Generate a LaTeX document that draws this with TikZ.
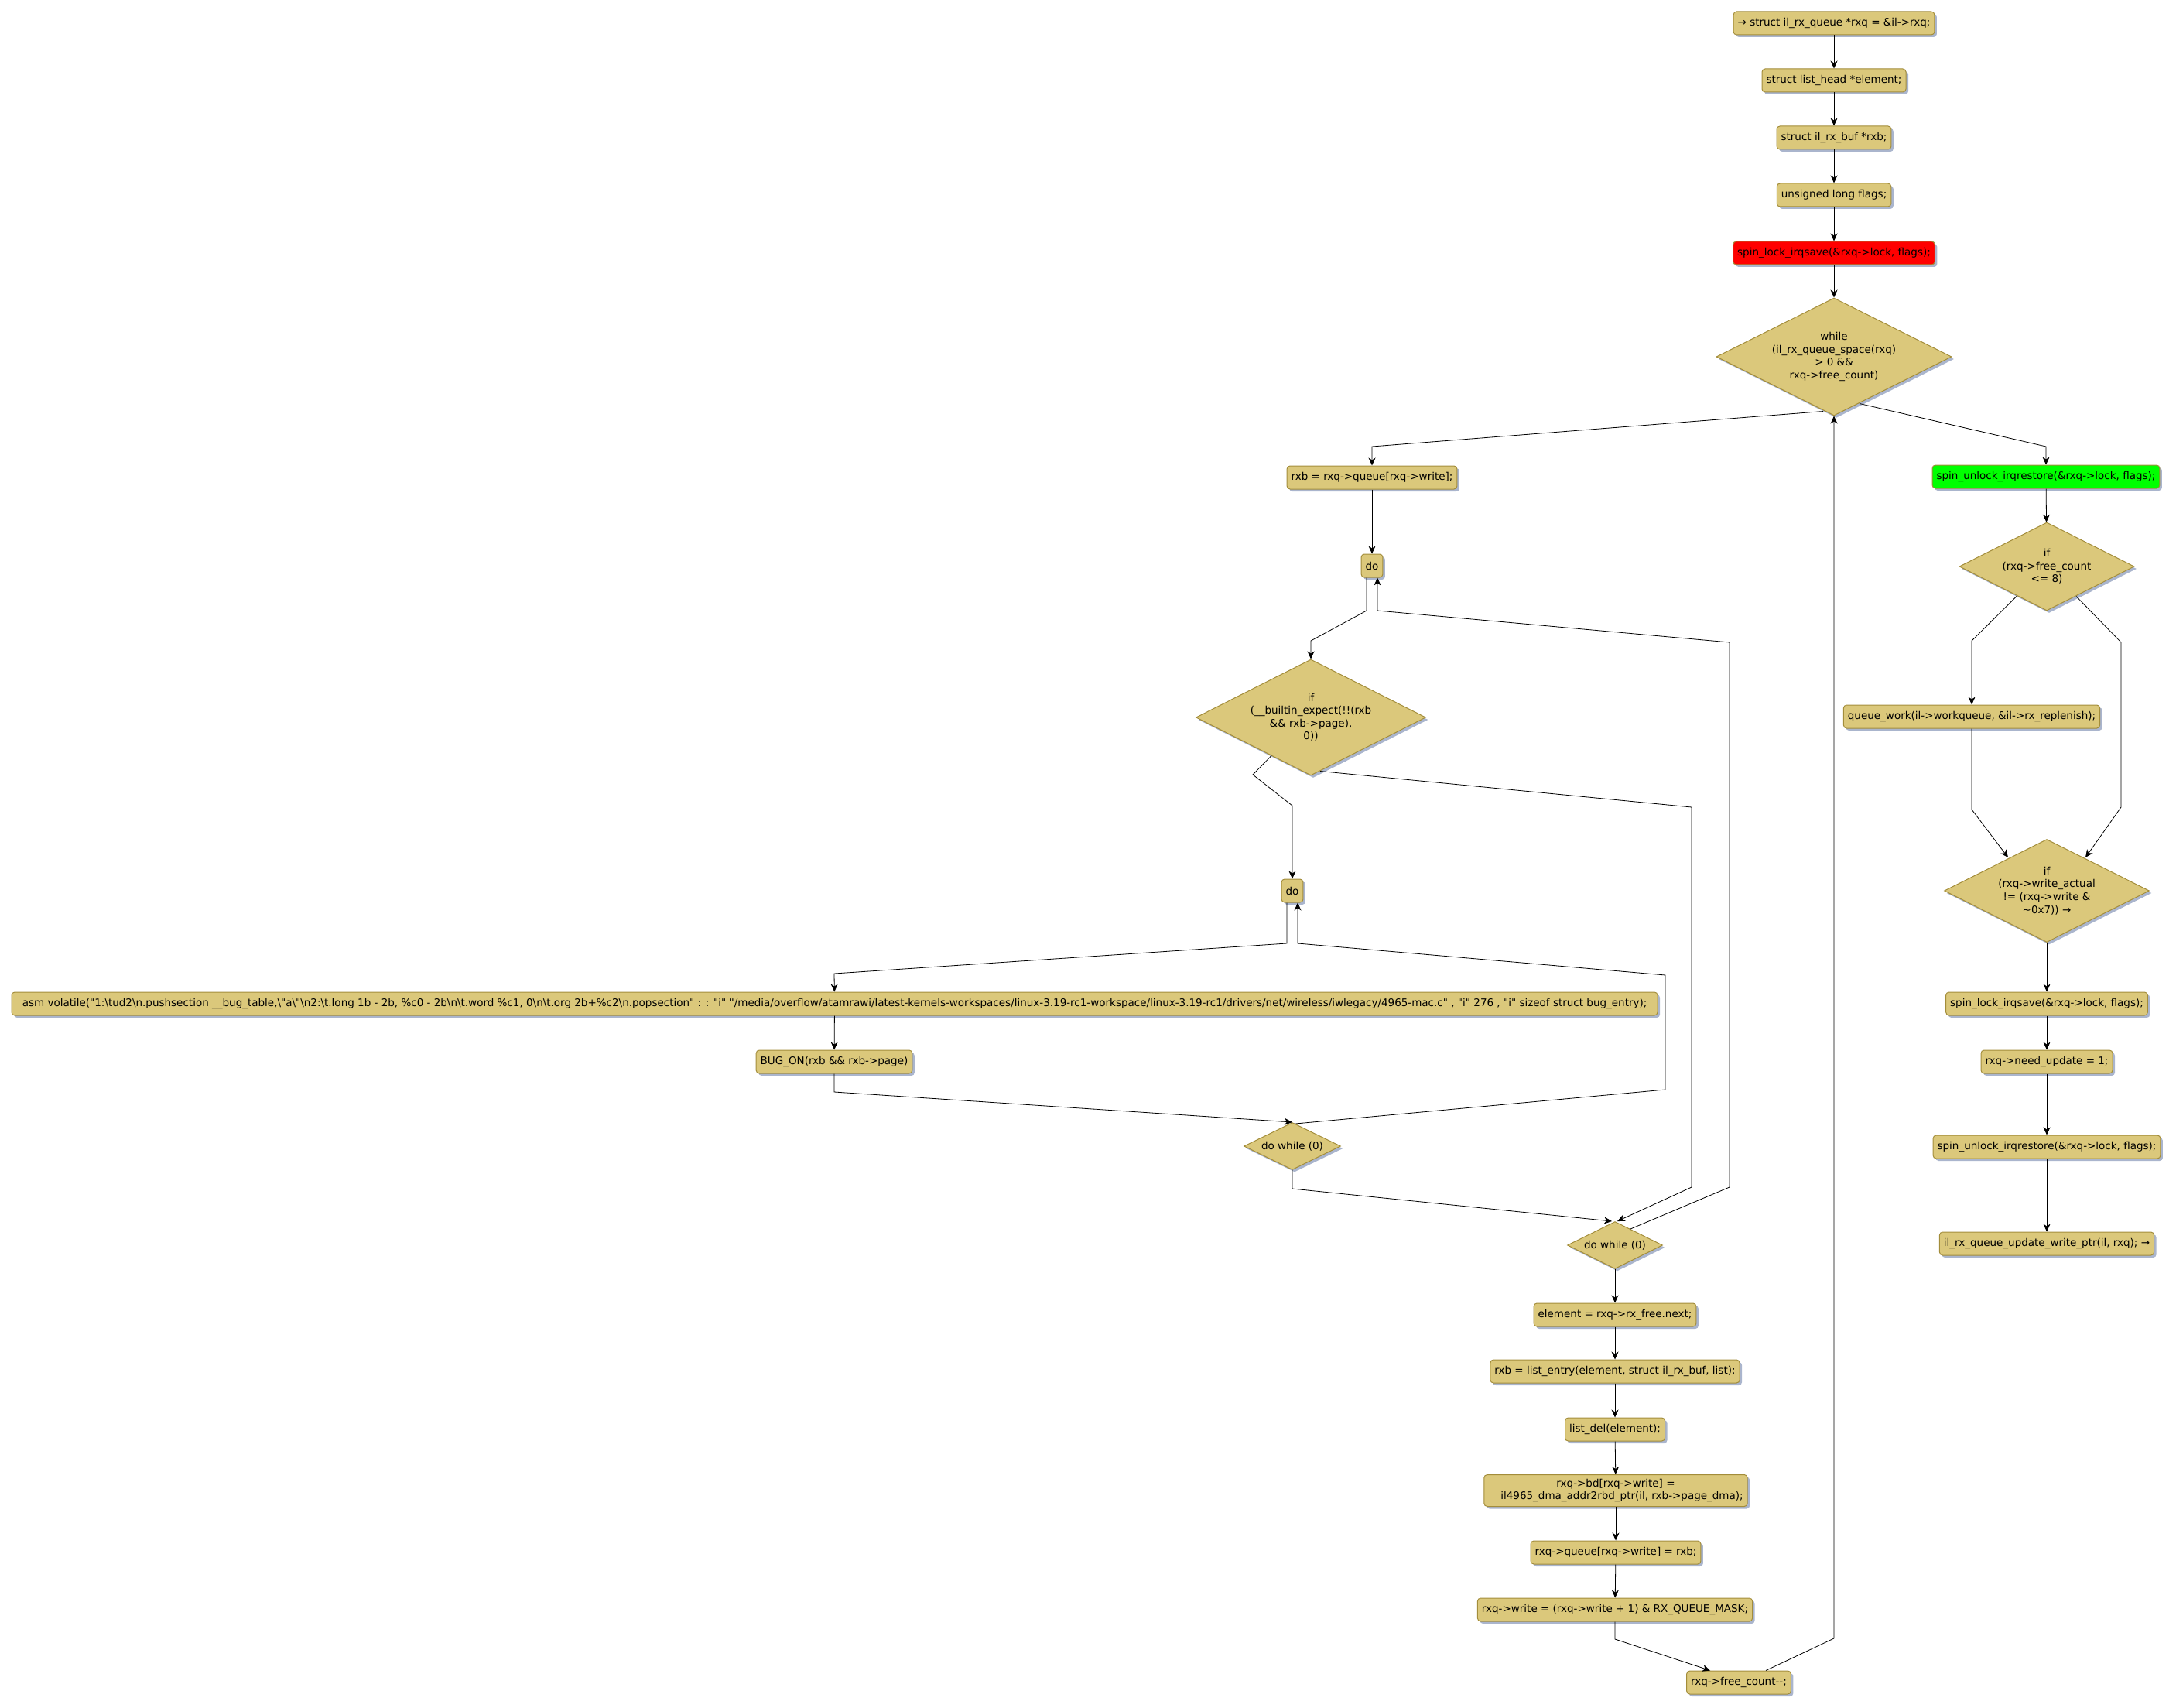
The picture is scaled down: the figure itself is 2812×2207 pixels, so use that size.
\documentclass[tikz,border=0pt]{standalone}
\usepackage{fontspec}
\usepackage{tikz}
\usetikzlibrary{arrows,arrows.meta,shapes.geometric,shadows}
\newfontfamily\umlfont{DejaVu Sans}
\definecolor{actfill}{RGB}{219,200,123}
\definecolor{actline}{RGB}{163,141,59}
\definecolor{actshadow}{RGB}{170,181,205}
\definecolor{lockred}{RGB}{255,0,0}
\definecolor{unlockgreen}{RGB}{0,255,0}
\newcommand\bksl{\textbackslash}
\tikzset{flow/.style={-{Stealth[length=10pt,width=9pt,inset=3pt]},thick},
  umlshadow/.style={drop shadow={shadow xshift=3pt,shadow yshift=-3pt,fill=actshadow,opacity=1}}}

\begin{document}
\begin{tikzpicture}[x=1pt,y=-1pt]%
        \useasboundingbox (0,0) rectangle (2812,2207);%%
        \begin{scope}[shape=rectangle,rounded corners=4pt,inner xsep=5.5pt,minimum height=30pt]
        \tikzstyle{every node}=[draw=actline,fill=actfill,line width=1pt,umlshadow,font=\umlfont\fontsize{13.5}{16.5}\selectfont] %%
        \node (n1) at (2370,30)  {→ struct il\_rx\_queue *rxq = \&il->rxq;}; %%
        \node (n2) at (2370,104)  {struct list\_head *element;}; %%
        \node (n3) at (2370,178)  {struct il\_rx\_buf *rxb;}; %%
        \node (n4) at (2370,252)  {unsigned long flags;}; %%
        \node[fill=lockred] (lock1) at (2370,327)  {spin\_lock\_irqsave(\&rxq->lock, flags);}; %%
        \node (rxb) at (1773,617)  {rxb = rxq->queue[rxq->write];}; %%
        \node (do1) at (1773,731)  {do}; %%
        \node (do2) at (1670,1151)  {do}; %%
        \node[minimum width=2127pt] (asm) at (1078.5,1297)  {asm volatile("1:\bksl tud2\bksl n.pushsection \_\_bug\_table,\bksl"a\bksl"\bksl n2:\bksl t.long 1b - 2b, \%c0 - 2b\bksl n\bksl t.word \%c1, 0\bksl n\bksl t.org 2b+\%c2\bksl n.popsection" : : "i" "/media/overflow/atamrawi/latest-kernels-workspaces/linux-3.19-rc1-workspace/linux-3.19-rc1/drivers/net/wireless/iwlegacy/4965-mac.c" , "i" 276 , "i" sizeof struct bug\_entry);}; %%
        \node (bug) at (1078,1372)  {BUG\_ON(rxb \&\& rxb->page)}; %%
        \node (elem) at (2087,1699)  {element = rxq->rx\_free.next;}; %%
        \node (lentry) at (2087,1772)  {rxb = list\_entry(element, struct il\_rx\_buf, list);}; %%
        \node (ldel) at (2087,1847)  {list\_del(element);}; %%
        \node[align=center,minimum height=41pt] (bd) at (2088,1926)  {rxq->bd[rxq->write] =\\\hspace*{16pt}il4965\_dma\_addr2rbd\_ptr(il, rxb->page\_dma);}; %%
        \node (qw) at (2088,2006)  {rxq->queue[rxq->write] = rxb;}; %%
        \node (wr) at (2087,2080)  {rxq->write = (rxq->write + 1) \& RX\_QUEUE\_MASK;}; %%
        \node (fc) at (2247,2174)  {rxq->free\_count-{}-;}; %%
        \node[fill=unlockgreen] (unlock1) at (2644,616)  {spin\_unlock\_irqrestore(\&rxq->lock, flags);}; %%
        \node (qwork) at (2548,926)  {queue\_work(il->workqueue, \&il->rx\_replenish);}; %%
        \node (lock2) at (2645,1297)  {spin\_lock\_irqsave(\&rxq->lock, flags);}; %%
        \node (need) at (2645,1372)  {rxq->need\_update = 1;}; %%
        \node (unlock2) at (2645,1482)  {spin\_unlock\_irqrestore(\&rxq->lock, flags);}; %%
        \node (upd) at (2645,1607)  {il\_rx\_queue\_update\_write\_ptr(il, rxq); →}; %%
        \end{scope}%
        \begin{scope}[shape=diamond,inner sep=0pt,aspect=2]
        \tikzstyle{every node}=[draw=actline,fill=actfill,line width=1pt,umlshadow,align=center,font=\umlfont\fontsize{13.5}{16.5}\selectfont] %%
        \node[minimum width=304pt,minimum height=152pt] (while) at (2370,461)  {while\\(il\_rx\_queue\_space(rxq)\\> 0 \&\&\\rxq->free\_count)}; %%
        \node[minimum width=297pt,minimum height=150pt] (ifb) at (1694,927)  {if\\(\_\_builtin\_expect(!!(rxb\\\&\& rxb->page),\\0))}; %%
        \node[minimum width=125pt,minimum height=61pt] (dw1) at (1670,1481)  {do while (0)}; %%
        \node[minimum width=123pt,minimum height=61pt] (dw2) at (2087,1609)  {do while (0)}; %%
        \node[minimum width=226pt,minimum height=114pt] (iffc) at (2645,732)  {if\\(rxq->free\_count\\<= 8)}; %%
        \node[minimum width=265pt,minimum height=133pt] (wa) at (2645,1151)  {if\\(rxq->write\_actual\\!= (rxq->write \&\\\textasciitilde0x7)) →}; %%
        \end{scope}
        \draw[flow] (n1)--(n2);  %%
        \draw[flow] (n2)--(n3);  %%
        \draw[flow] (n3)--(n4);  %%
        \draw[flow] (n4)--(lock1);  %%
        \draw[flow] (lock1)--(while);  %%
        \draw[flow] ([xshift=-14pt,yshift=6pt]while.south)--(1773,577)--(rxb);  %%
        \draw[flow] ([xshift=33pt,yshift=16pt]while.south)--(2644,577)--(unlock1);  %%
        \draw[flow] (rxb)--(do1);  %%
        \draw[flow] ([xshift=-7pt]do1.south)--(1766,789)--(1694,828)--(ifb);  %%
        \draw[flow] ([xshift=-51pt,yshift=26pt]ifb.south)--(1619,1001)--(1670,1041)--(do2);  %%
        \draw[flow] ([xshift=12pt,yshift=6pt]ifb.south)--(2186,1043)--(2186,1534)--([xshift=3pt]dw2.north);  %%
        \draw[flow] ([xshift=-7pt]do2.south)--(1663,1219)--(1078,1258)--(asm);  %%
        \draw[flow] (asm)--(bug);  %%
        \draw[flow] (bug)--(1078,1411)--(dw1.north);  %%
        \draw[flow] ([xshift=4pt,yshift=-2pt]dw1.north)--(2152,1408)--(2152,1260)--(1677,1219)--([xshift=7pt]do2.south);  %%
        \draw[flow] (dw1)--(1670,1536)--([xshift=-4pt]dw2.north);  %%
        \draw[flow] ([xshift=20pt,yshift=-10pt]dw2.north)--(2235,1534)--(2235,830)--(1780,789)--([xshift=7pt]do1.south);  %%
        \draw[flow] (dw2)--(elem);  %%
        \draw[flow] (elem)--(lentry);  %%
        \draw[flow] (lentry)--(ldel);  %%
        \draw[flow] (ldel)--(bd);  %%
        \draw[flow] (bd)--(qw);  %%
        \draw[flow] (qw)--(wr);  %%
        \draw[flow] (wr)--(2087,2118)--([xshift=-37pt]fc.north);  %%
        \draw[flow] ([xshift=35pt]fc.north)--(2370,2117)--(while);  %%
        \draw[flow] (unlock1)--(iffc);  %%
        \draw[flow] ([xshift=-39pt,yshift=19pt]iffc.south)--(2548,828)--(qwork);  %%
        \draw[flow] ([xshift=38pt,yshift=19pt]iffc.south)--(2741,830)--(2741,1043)--([xshift=50pt,yshift=-24pt]wa.north);  %%
        \draw[flow] (qwork)--(2548,1046)--([xshift=-50pt,yshift=-24pt]wa.north);  %%
        \draw[flow] (wa)--(lock2);  %%
        \draw[flow] (lock2)--(need);  %%
        \draw[flow] (need)--(unlock2);  %%
        \draw[flow] (unlock2)--(upd);  %%
        \end{tikzpicture}
\end{document}
